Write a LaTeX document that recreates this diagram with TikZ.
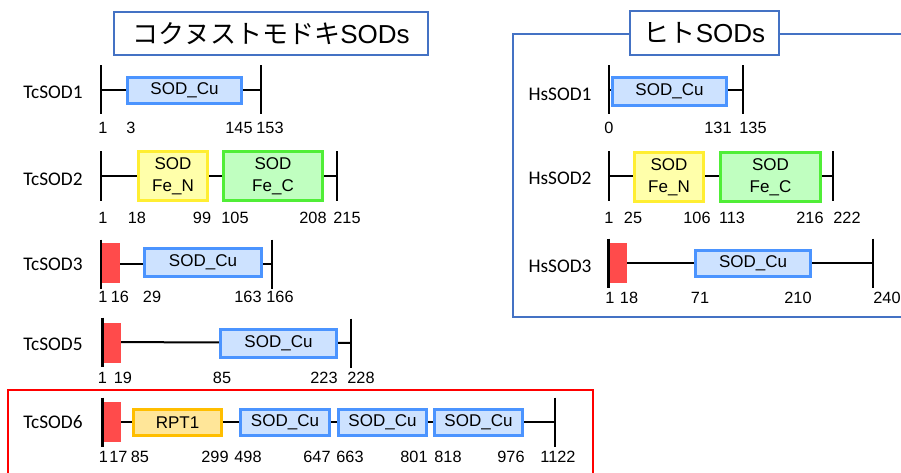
\documentclass[tikz,border=0pt]{standalone}
\usepackage{fontspec}
\setmainfont{Liberation Sans}
\newfontfamily\cjkfont{Noto Sans CJK JP}
\newfontfamily\labfont{Carlito}
\usetikzlibrary{calc}
\definecolor{cufill}{RGB}{205,226,255}
\definecolor{cudraw}{RGB}{75,148,255}
\definecolor{fenfill}{RGB}{255,255,170}
\definecolor{fendraw}{RGB}{255,238,50}
\definecolor{fecfill}{RGB}{192,255,192}
\definecolor{fecdraw}{RGB}{80,238,55}
\definecolor{rptfill}{RGB}{255,230,153}
\definecolor{rptdraw}{RGB}{255,190,0}
\definecolor{spred}{RGB}{255,75,75}
\definecolor{frameblue}{RGB}{68,114,196}
\newcommand\tickat[1]{\draw[tk] ($(#1)+(0,-24.5)$) -- ($(#1)+(0,24.5)$);}
\begin{document}
\begin{tikzpicture}[x=1pt,y=-1pt,
  tk/.style={line width=2.5pt,black},
  bb/.style={line width=2pt,black},
  dom/.style={draw,line width=2.8pt,inner sep=0pt,align=center,font=\fontsize{17}{22}\selectfont},
  cu/.style={dom,draw=cudraw,fill=cufill},
  fen/.style={dom,draw=fendraw,fill=fenfill},
  fec/.style={dom,draw=fecdraw,fill=fecfill},
  rpt/.style={dom,draw=rptdraw,fill=rptfill},
  sp/.style={fill=spred,inner sep=0pt,minimum width=18,minimum height=40},
  num/.style={inner sep=0pt,font=\fontsize{16.3}{19}\selectfont},
  lab/.style={inner sep=0pt,font=\labfont\fontsize{19.3}{22}\selectfont},
  ttl/.style={draw=frameblue,line width=2.5pt,fill=white,inner sep=0pt,font=\fontsize{26}{30}\selectfont},
]
\useasboundingbox (0,0) rectangle (901,473);
\clip (0,0) rectangle (901,473);
\fill[white] (0,0) rectangle (901,473);

% frames
\draw[frameblue,line width=2pt] (915,34) -- (513,34) -- (513,317) -- (915,317);
\draw[red,line width=2pt] (8,390) rectangle (593,495);

% titles
\node[ttl,minimum width=314,minimum height=43] (ttc) at (271,33.5) {{\cjkfont コクヌストモドキ}SODs};
\node[ttl,minimum width=149,minimum height=44] (tth) at (704.5,33) {{\cjkfont ヒト}SODs};

% ---------- TcSOD1
\node[lab] (a1l) at (53,92) {TcSOD1};
\coordinate (a1L) at (101,90); \coordinate (a1R) at (261,90);
\draw[bb] (a1L) -- (a1R);
\tickat{a1L} \tickat{a1R}
\node[cu,minimum width=114,minimum height=26] (a1c) at (184.5,90.5) {SOD\_Cu};
\foreach \x/\t [count=\i] in {103/1,131/3,239/145,270/153} \node[num] (a1n\i) at (\x,128) {\t};

% ---------- TcSOD2
\node[lab] (a2l) at (53,179) {TcSOD2};
\coordinate (a2L) at (101,176); \coordinate (a2R) at (337,176);
\draw[bb] (a2L) -- (a2R);
\tickat{a2L} \tickat{a2R}
\node[fen,minimum width=69,minimum height=49] (a2n) at (173,176) {SOD\\Fe\_N};
\node[fec,minimum width=99,minimum height=49] (a2c) at (273,176) {SOD\\Fe\_C};
\foreach \x/\t [count=\i] in {103/1,137/18,202/99,235/105,313/208,347/215} \node[num] (a2n\i) at (\x,218) {\t};

% ---------- TcSOD3
\node[lab] (a3l) at (53,264) {TcSOD3};
\coordinate (a3L) at (101,264); \coordinate (a3R) at (272,264);
\draw[bb] (a3L) -- (a3R);
\node[sp] (a3s) at (111,262.5) {};
\tickat{a3L} \tickat{a3R}
\node[cu,minimum width=117,minimum height=28] (a3c) at (203,262.5) {SOD\_Cu};
\foreach \x/\t [count=\i] in {103/1,120/16,152/29,248/163,280/166} \node[num] (a3n\i) at (\x,297) {\t};

% ---------- TcSOD5
\node[lab] (a5l) at (53,344) {TcSOD5};
\coordinate (a5L) at (102.5,342); \coordinate (a5R) at (351,343);
\draw[bb] (a5L) -- (a5R);
\node[sp] (a5s) at (111.5,343) {};
\tickat{a5L} \tickat{a5R}
\node[cu,minimum width=116,minimum height=28] (a5c) at (278.5,343.5) {SOD\_Cu};
\foreach \x/\t [count=\i] in {102.5/1,123/19,222/85,324/223,361/228} \node[num] (a5n\i) at (\x,378) {\t};

% ---------- TcSOD6
\node[lab] (a6l) at (53,422) {TcSOD6};
\coordinate (a6L) at (102.5,422); \coordinate (a6R) at (555,422);
\draw[bb] (a6L) -- (a6R);
\node[sp] (a6s) at (111.5,422) {};
\tickat{a6L} \tickat{a6R}
\node[rpt,minimum width=88,minimum height=26] (a6r) at (177.5,422.5) {RPT1};
\node[cu,minimum width=89,minimum height=26] (a6c1) at (285,422.5) {SOD\_Cu};
\node[cu,minimum width=88,minimum height=26] (a6c2) at (382.5,422.5) {SOD\_Cu};
\node[cu,minimum width=88,minimum height=26] (a6c3) at (478.5,422.5) {SOD\_Cu};
\foreach \x/\t [count=\i] in {103.5/1,118.5/17,140/85,215/299,248/498,317/647,350/663,414/801,448/818,511/976,558/1122} \node[num] (a6n\i) at (\x,457) {\t};

% ---------- HsSOD1
\node[lab] (h1l) at (560,94) {HsSOD1};
\coordinate (h1L) at (609,90); \coordinate (h1R) at (743,90);
\draw[bb] (h1L) -- (h1R);
\tickat{h1L} \tickat{h1R}
\node[cu,minimum width=114,minimum height=28] (h1c) at (669.5,91.5) {SOD\_Cu};
\foreach \x/\t [count=\i] in {609/0,718/131,753/135} \node[num] (h1n\i) at (\x,128) {\t};

% ---------- HsSOD2
\node[lab] (h2l) at (560,178) {HsSOD2};
\coordinate (h2L) at (609,176); \coordinate (h2R) at (833,176);
\draw[bb] (h2L) -- (h2R);
\tickat{h2L} \tickat{h2R}
\node[fen,minimum width=69,minimum height=49] (h2n) at (669,177) {SOD\\Fe\_N};
\node[fec,minimum width=100,minimum height=49] (h2c) at (770.5,177) {SOD\\Fe\_C};
\foreach \x/\t [count=\i] in {609/1,633/25,697/106,732/113,810/216,847/222} \node[num] (h2n\i) at (\x,218) {\t};

% ---------- HsSOD3
\node[lab] (h3l) at (560,266) {HsSOD3};
\coordinate (h3L) at (608.5,263); \coordinate (h3R) at (873,263);
\draw[bb] (h3L) -- (h3R);
\node[sp] (h3s) at (617.5,263) {};
\tickat{h3L} \tickat{h3R}
\node[cu,minimum width=115,minimum height=26] (h3c) at (753,263.5) {SOD\_Cu};
\foreach \x/\t [count=\i] in {610/1,629/18,700/71,798/210,887/240} \node[num] (h3n\i) at (\x,298) {\t};
\end{tikzpicture}
\end{document}
